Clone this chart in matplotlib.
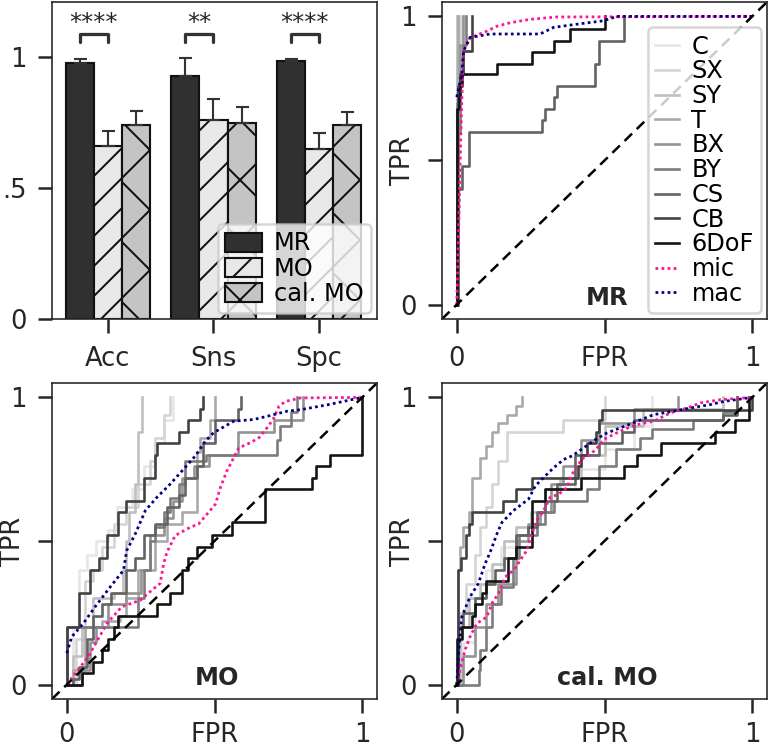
import numpy as np
import matplotlib
matplotlib.use("Agg")
import matplotlib.pyplot as plt

# ---------------- data ----------------
metrics = ["Acc", "Sns", "Spc"]
group_names = ["MR", "MO", "cal. MO"]
mr_vals = [0.978, 0.928, 0.983]
mo_vals = [0.659, 0.759, 0.647]
cal_vals = [0.742, 0.747, 0.740]
mr_err = [0.013, 0.069, 0.009]
mo_err = [0.058, 0.082, 0.063]
cal_err = [0.051, 0.062, 0.050]
sig_labels = ["****", "**", "****"]
bar_ytick_labels = ["0", ".5", "1"]

curve_names = ["C", "SX", "SY", "T", "BX", "BY", "CS", "CB", "6DoF"]

# ROC step curves: (fpr, tpr) where tpr jumps to the value at that fpr
mr_roc = {
    "C": ([0, 0.003, 0.006, 0.010, 0.014, 0.020], [0, 0.30, 0.60, 0.80, 0.95, 1.0]),
    "SX": ([0, 0, 0.010], [0, 0.90, 1.0]),
    "SY": ([0, 0], [0, 1.0]),
    "T": ([0, 0.003], [0, 1.0]),
    "BX": ([0, 0, 0.010, 0.020], [0, 0.70, 0.90, 1.0]),
    "BY": ([0, 0.005, 0.010, 0.020, 0.030], [0, 0.60, 0.80, 0.90, 1.0]),
    "CS": ([0, 0.005, 0.017, 0.040, 0.288, 0.300, 0.328, 0.339, 0.469, 0.480, 0.565],
           [0, 0.40, 0.48, 0.60, 0.64, 0.68, 0.72, 0.76, 0.835, 0.916, 1.0]),
    "CB": ([0, 0, 0.005, 0.012, 0.020, 0.050], [0, 0.68, 0.76, 0.80, 0.88, 1.0]),
    "6DoF": ([0, 0, 0.006, 0.011, 0.017, 0.136, 0.254, 0.328, 0.384, 0.503],
             [0, 0.68, 0.72, 0.76, 0.80, 0.835, 0.875, 0.916, 0.956, 1.0]),
}
mr_mic = ([0, 0.006, 0.011, 0.017, 0.023, 0.045, 0.102, 0.136, 0.181, 0.249, 0.339, 1],
          [0, 0.246, 0.477, 0.708, 0.880, 0.926, 0.949, 0.966, 0.978, 0.990, 0.998, 1])
mr_mac = ([0, 0.017, 0.023, 0.045, 0.113, 0.282, 0.328, 0.407, 0.497, 0.542, 1],
          [0.72, 0.80, 0.88, 0.927, 0.939, 0.939, 0.962, 0.973, 0.985, 1.0, 1])

mo_roc = {
    "C": ([0, 0.02, 0.04, 0.07, 0.10, 0.14, 0.17, 0.22, 0.26, 0.30, 0.33, 0.36],
          [0, 0.20, 0.40, 0.45, 0.50, 0.54, 0.62, 0.68, 0.76, 0.84, 0.92, 1.0]),
    "SX": ([0, 0.03, 0.06, 0.09, 0.12, 0.16, 0.20, 0.24, 0.28, 0.30, 0.33, 0.35],
           [0, 0.16, 0.36, 0.40, 0.48, 0.56, 0.62, 0.70, 0.78, 0.86, 0.94, 1.0]),
    "SY": ([0, 0.02, 0.05, 0.09, 0.16, 0.19, 0.20, 0.21, 0.23, 0.24, 0.255],
           [0, 0.10, 0.20, 0.30, 0.32, 0.40, 0.50, 0.60, 0.70, 0.88, 1.0]),
    "T": ([0, 0.02, 0.06, 0.12, 0.18, 0.20, 0.24, 0.30, 0.34, 0.39, 0.44, 0.45, 0.485, 0.50],
          [0, 0.05, 0.20, 0.22, 0.24, 0.30, 0.40, 0.50, 0.56, 0.60, 0.81, 0.86, 0.92, 1.0]),
    "BX": ([0, 0.05, 0.08, 0.10, 0.14, 0.20, 0.25, 0.28, 0.33, 0.36, 0.39, 0.43, 0.48, 0.58, 0.70, 0.80],
           [0, 0.05, 0.15, 0.20, 0.28, 0.32, 0.40, 0.52, 0.58, 0.64, 0.72, 0.76, 0.80, 0.88, 0.92, 1.0]),
    "BY": ([0, 0, 0.24, 0.26, 0.28, 0.30, 0.33, 0.35, 0.38, 0.40, 0.47, 0.71, 0.72, 0.76, 0.78],
           [0, 0.20, 0.30, 0.40, 0.50, 0.55, 0.60, 0.65, 0.70, 0.78, 0.80, 0.85, 0.90, 0.95, 1.0]),
    "CS": ([0, 0.02, 0.04, 0.07, 0.09, 0.12, 0.15, 0.20, 0.23, 0.26, 0.30, 0.34, 0.38, 0.40, 0.44, 0.46, 0.50, 0.58, 0.59],
           [0, 0.02, 0.06, 0.16, 0.24, 0.28, 0.32, 0.40, 0.44, 0.52, 0.56, 0.62, 0.66, 0.72, 0.76, 0.84, 0.92, 0.96, 1.0]),
    "CB": ([0, 0, 0.04, 0.08, 0.11, 0.135, 0.175, 0.20, 0.26, 0.30, 0.305, 0.38, 0.41, 0.45, 0.46],
           [0, 0.20, 0.32, 0.40, 0.44, 0.52, 0.60, 0.64, 0.72, 0.80, 0.84, 0.88, 0.92, 0.96, 1.0]),
    "6DoF": ([0, 0.05, 0.09, 0.12, 0.14, 0.16, 0.175, 0.305, 0.35, 0.39, 0.41, 0.44, 0.49, 0.56, 0.67, 0.83, 0.845, 0.89, 1.0],
             [0, 0.04, 0.08, 0.12, 0.16, 0.20, 0.24, 0.28, 0.32, 0.40, 0.44, 0.48, 0.52, 0.565, 0.68, 0.72, 0.76, 0.80, 1.0]),
}
mo_mic = ([0, 0.073, 0.136, 0.186, 0.249, 0.294, 0.316, 0.328, 0.339, 0.367, 0.418, 0.446, 0.475, 0.503,
           0.520, 0.542, 0.565, 0.582, 0.621, 0.650, 0.678, 0.701, 0.718, 0.740, 0.791, 1],
          [0, 0.098, 0.213, 0.271, 0.294, 0.334, 0.352, 0.421, 0.461, 0.519, 0.548, 0.559, 0.594, 0.628,
           0.686, 0.744, 0.790, 0.824, 0.842, 0.859, 0.894, 0.928, 0.969, 0.986, 0.998, 1])
mo_mac = ([0, 0.017, 0.056, 0.096, 0.147, 0.192, 0.203, 0.232, 0.266, 0.305, 0.350, 0.390, 0.435,
           0.469, 0.497, 0.565, 0.633, 0.678, 0.746, 0.791, 0.887, 1],
          [0.11, 0.167, 0.213, 0.271, 0.340, 0.398, 0.467, 0.525, 0.606, 0.652, 0.698, 0.744, 0.796,
           0.848, 0.877, 0.917, 0.923, 0.934, 0.952, 0.957, 0.975, 1])

cal_roc = {
    "C": ([0, 0.02, 0.06, 0.10, 0.15, 0.20, 0.25, 0.30, 0.40, 0.50, 0.60, 0.66],
          [0, 0.15, 0.30, 0.40, 0.48, 0.55, 0.60, 0.68, 0.75, 0.82, 0.90, 1.0]),
    "SX": ([0, 0.01, 0.03, 0.06, 0.08, 0.10, 0.12, 0.14, 0.17, 0.36, 0.50],
           [0, 0.25, 0.35, 0.45, 0.55, 0.62, 0.70, 0.78, 0.88, 0.92, 1.0]),
    "SY": ([0, 0.01, 0.04, 0.08, 0.12, 0.16, 0.20, 0.25, 0.30, 0.35, 0.42, 0.50, 0.63, 0.90],
           [0, 0.20, 0.30, 0.35, 0.42, 0.50, 0.55, 0.60, 0.68, 0.72, 0.80, 0.90, 0.96, 1.0]),
    "T": ([0, 0.005, 0.012, 0.02, 0.04, 0.05, 0.08, 0.10, 0.12, 0.14, 0.17, 0.20, 0.22],
          [0, 0.40, 0.48, 0.55, 0.60, 0.72, 0.79, 0.83, 0.88, 0.91, 0.94, 0.97, 1.0]),
    "BX": ([0, 0.02, 0.06, 0.10, 0.14, 0.20, 0.24, 0.28, 0.32, 0.36, 0.42, 0.48, 0.60, 0.75],
           [0, 0.10, 0.20, 0.28, 0.35, 0.50, 0.56, 0.60, 0.70, 0.76, 0.85, 0.91, 0.96, 1.0]),
    "BY": ([0, 0.075, 0.08, 0.10, 0.12, 0.15, 0.19, 0.21, 0.27, 0.30, 0.33, 0.44, 0.48, 0.54, 0.62, 0.66, 0.80, 0.90, 0.95],
           [0, 0.05, 0.12, 0.20, 0.28, 0.34, 0.44, 0.52, 0.56, 0.60, 0.64, 0.68, 0.76, 0.82, 0.86, 0.89, 0.92, 0.95, 1.0]),
    "CS": ([0, 0.005, 0.02, 0.06, 0.10, 0.13, 0.16, 0.20, 0.24, 0.27, 0.30, 0.34, 0.40, 0.48, 0.56, 0.60, 0.90, 0.95],
           [0, 0.20, 0.25, 0.30, 0.35, 0.40, 0.44, 0.52, 0.55, 0.60, 0.64, 0.70, 0.80, 0.84, 0.88, 0.92, 0.94, 1.0]),
    "CB": ([0, 0.005, 0.015, 0.03, 0.04, 0.05, 0.155, 0.20, 0.255, 0.41, 0.42, 0.44, 0.47, 0.48, 0.49, 1.0],
           [0, 0.40, 0.44, 0.52, 0.56, 0.60, 0.64, 0.68, 0.72, 0.76, 0.80, 0.84, 0.88, 0.92, 0.957, 1.0]),
    "6DoF": ([0, 0, 0.017, 0.05, 0.06, 0.085, 0.10, 0.175, 0.20, 0.255, 0.30, 0.42, 0.566, 0.61, 0.69, 0.875, 0.94, 0.99],
             [0, 0.16, 0.20, 0.24, 0.28, 0.32, 0.36, 0.44, 0.48, 0.64, 0.68, 0.72, 0.76, 0.80, 0.84, 0.88, 0.92, 1.0]),
}
cal_mic = ([0, 0.011, 0.028, 0.045, 0.068, 0.102, 0.119, 0.141, 0.164, 0.192, 0.215, 0.237, 0.254, 0.271,
            0.294, 0.316, 0.345, 0.373, 0.390, 0.407, 0.429, 0.452, 0.475, 0.497, 0.531, 0.565, 0.610,
            0.667, 0.723, 0.780, 0.825, 0.893, 1],
           [0, 0.052, 0.121, 0.167, 0.213, 0.236, 0.283, 0.317, 0.375, 0.398, 0.433, 0.467, 0.525, 0.571,
            0.606, 0.652, 0.663, 0.686, 0.732, 0.761, 0.790, 0.801, 0.824, 0.853, 0.871, 0.888, 0.905,
            0.917, 0.946, 0.963, 0.981, 0.992, 1])
cal_mac = ([0, 0.006, 0.017, 0.045, 0.073, 0.096, 0.113, 0.136, 0.153, 0.192, 0.243, 0.266, 0.294,
            0.328, 0.362, 0.390, 0.429, 0.469, 0.508, 0.554, 0.610, 0.667, 0.734, 0.791, 0.859, 0.904, 1],
           [0, 0.110, 0.236, 0.306, 0.352, 0.421, 0.461, 0.525, 0.565, 0.606, 0.646, 0.692, 0.721,
            0.755, 0.784, 0.796, 0.824, 0.853, 0.876, 0.894, 0.917, 0.940, 0.952, 0.963, 0.975, 0.986, 1])

# ---------------- style ----------------
DPI = 180
FS = 9.6
TFS = 10.3
plt.rcParams.update({
    "font.family": ["DejaVu Sans"],
    "font.size": FS,
    "axes.linewidth": 0.65,
    "axes.edgecolor": "#262626",
    "xtick.major.size": 5.6,
    "ytick.major.size": 5.6,
    "xtick.major.width": 1.0,
    "ytick.major.width": 1.0,
    "xtick.color": "#262626",
    "ytick.color": "#262626",
    "xtick.labelsize": TFS,
    "ytick.labelsize": TFS,
    "xtick.major.pad": 5.0,
    "ytick.major.pad": 4.6,
    "hatch.linewidth": 0.8,
    "hatch.color": "black",
    "lines.scale_dashes": True,
})

grays = ["#e6e6e6", "#d4d4d4", "#bfbfbf", "#a9a9a9", "#939393",
         "#7c7c7c", "#626262", "#424242", "#141414"]
mic_color = "#ff1493"
mac_color = "#000080"

W, H = 770, 747
fig = plt.figure(figsize=(W / DPI, H / DPI), dpi=DPI)

def px_axes(x0, y0, x1, y1):
    return fig.add_axes([x0 / W, 1 - y1 / H, (x1 - x0) / W, (y1 - y0) / H])

ax_bar = px_axes(52, 2, 377, 319)
ax_mr = px_axes(442, 2, 767, 319)
ax_mo = px_axes(52, 383, 377, 699)
ax_cal = px_axes(442, 383, 767, 699)

# ---------------- bar chart ----------------
x = np.arange(len(metrics))
bw = 0.267
bar_specs = [
    (mr_vals, mr_err, "#303030", "", group_names[0]),
    (mo_vals, mo_err, "#e8e8e8", "//", group_names[1]),
    (cal_vals, cal_err, "#c4c4c4", "x", group_names[2]),
]
for i, (vals, errs, col, hatch, lab) in enumerate(bar_specs):
    pos = x + (i - 1) * bw
    ax_bar.bar(pos, vals, width=bw, color=col, edgecolor="#111111",
               linewidth=0.85, hatch=hatch, label=lab, zorder=2)
    ax_bar.errorbar(pos, vals, yerr=[np.zeros(len(vals)), errs], fmt="none",
                    ecolor="#333333", elinewidth=0.85, capsize=2.6, capthick=0.85, zorder=3)

for i, s in enumerate(sig_labels):
    x0, x1 = x[i] - bw, x[i]
    ax_bar.plot([x0, x0, x1, x1], [1.057, 1.088, 1.088, 1.057], color="#333333",
                lw=1.3, solid_capstyle="round", solid_joinstyle="round", zorder=3)
    ax_bar.text((x0 + x1) / 2, 1.105, s, ha="center", va="baseline",
                fontsize=FS, color="#262626")

ax_bar.set_xlim(-0.53, 2.55)
ax_bar.set_ylim(0, 1.21)
ax_bar.set_xticks(x, metrics)
ax_bar.set_yticks([0, 0.5, 1], bar_ytick_labels)
ax_bar.legend(loc="lower right", fontsize=FS, handlelength=1.55, handleheight=0.85,
              handletextpad=0.5, labelspacing=0.05, borderpad=0.3, borderaxespad=0.25,
              framealpha=0.8, edgecolor="#cccccc")

# ---------------- ROC panels ----------------
def roc_panel(ax, roc, mic, mac, title, legend=False, xpad=5.0):
    for name, col in zip(curve_names, grays):
        fpr, tpr = roc[name]
        ax.plot(fpr, tpr, drawstyle="steps-post", color=col, lw=1.05, label=name)
    ax.plot(mic[0], mic[1], color=mic_color, lw=1.1, ls=(0, (1, 1.2)), label="mic")
    ax.plot(mac[0], mac[1], color=mac_color, lw=1.1, ls=(0, (1, 1.2)), label="mac")
    ax.plot([-0.05, 1.05], [-0.05, 1.05], color="black", lw=1.0, dashes=(4.2, 2.6))
    ax.set_xlim(-0.05, 1.05)
    ax.set_ylim(-0.05, 1.05)
    ax.set_xticks([0, 0.5, 1], ["0", "FPR", "1"])
    ax.set_yticks([0, 0.5, 1], ["0", "TPR", "1"])
    ax.tick_params(axis="x", pad=xpad)
    lbl = ax.get_yticklabels()[1]
    lbl.set_rotation(90)
    lbl.set_va("center")
    ax.text(0.51, 0.0, title, ha="center", va="baseline", fontsize=FS,
            fontweight="bold", color="#262626")
    if legend:
        ax.legend(loc="lower right", fontsize=FS, handlelength=1.0, handletextpad=0.5,
                  labelspacing=0.03, borderpad=0.3, borderaxespad=0.25,
                  framealpha=0.8, edgecolor="#cccccc")

roc_panel(ax_mr, mr_roc, mr_mic, mr_mac, "MR", legend=True)
roc_panel(ax_mo, mo_roc, mo_mic, mo_mac, "MO", xpad=3.4)
roc_panel(ax_cal, cal_roc, cal_mic, cal_mac, "cal. MO", xpad=3.4)

fig.savefig("out.png", dpi=DPI)
